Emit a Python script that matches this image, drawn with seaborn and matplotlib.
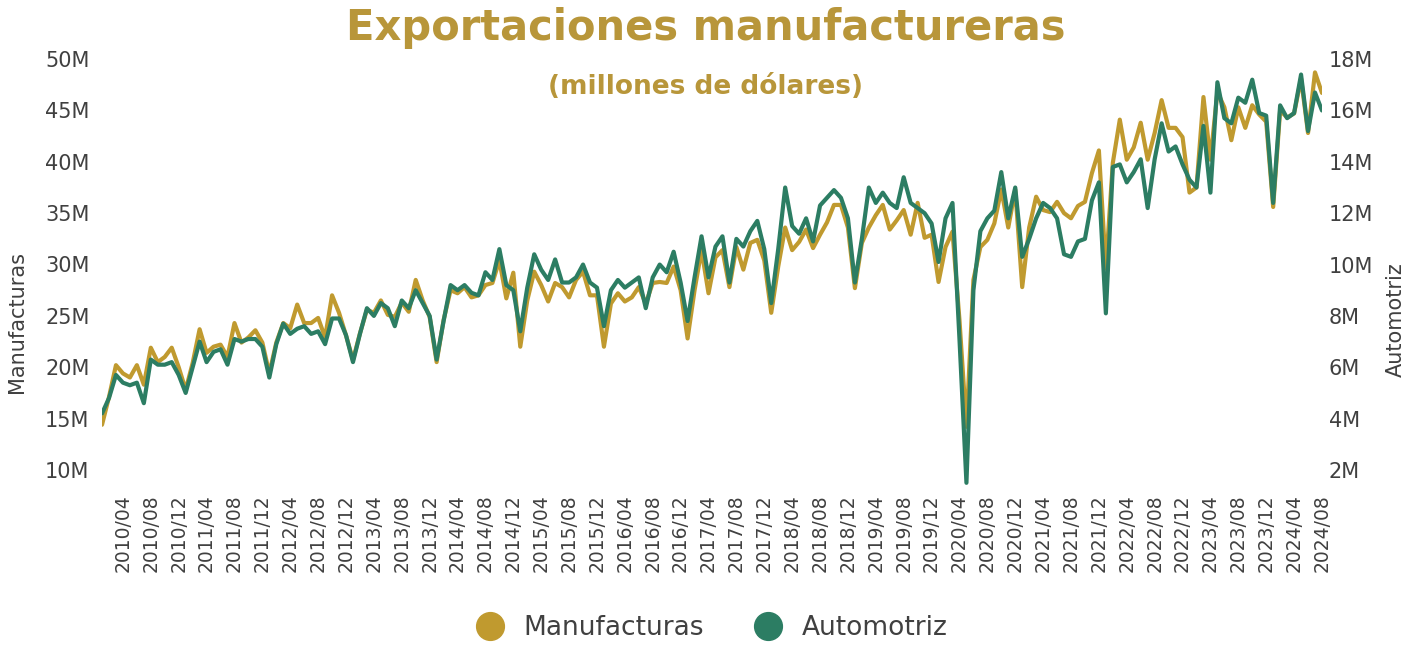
import matplotlib.pyplot as plt
from matplotlib.lines import Line2D
import seaborn as sns
import pandas as pd

sns.set_style("white")
plt.rcParams['font.family'] = ['DejaVu Sans']

# DATA HERE (monthly, 2010/01 - 2024/08)
months = pd.date_range("2010-01-01", periods=176, freq="MS").strftime("%Y/%m").tolist()

manufacturas = [
    14.4, 17.1, 20.2, 19.4, 19.0, 20.2, 18.3, 21.9, 20.5, 21.0, 21.9, 20.0,
    17.8, 20.4, 23.7, 21.4, 22.0, 22.2, 21.0, 24.3, 22.4, 22.9, 23.6, 22.4,
    19.4, 22.4, 24.3, 23.8, 26.1, 24.3, 24.3, 24.8, 22.9, 27.0, 25.3, 23.1,
    20.7, 23.3, 25.6, 25.3, 26.5, 25.1, 24.9, 26.3, 25.4, 28.5, 26.5, 24.9,
    20.5, 24.6, 27.5, 27.2, 27.8, 26.8, 27.0, 28.0, 28.2, 30.4, 26.7, 29.2,
    22.0, 26.5, 29.3, 28.0, 26.4, 28.2, 27.8, 26.8, 28.5, 29.3, 27.0, 27.0,
    22.0, 26.2, 27.2, 26.4, 26.8, 27.8, 26.2, 28.2, 28.3, 28.2, 29.8, 27.5,
    22.8, 27.5, 31.4, 27.2, 30.7, 31.4, 27.8, 31.7, 29.5, 32.1, 32.4, 30.4,
    25.3, 29.8, 33.6, 31.4, 32.2, 33.4, 31.6, 32.9, 34.1, 35.8, 35.8, 33.6,
    27.7, 32.1, 33.6, 34.8, 35.8, 33.4, 34.3, 35.3, 32.9, 36.0, 32.6, 32.9,
    28.3, 31.7, 33.2, 24.6, 14.2, 28.5, 31.7, 32.4, 34.0, 37.3, 33.6, 37.3,
    27.8, 33.6, 36.6, 35.3, 35.1, 36.1, 35.0, 34.5, 35.7, 36.1, 38.9, 41.1,
    29.6, 39.9, 44.1, 40.2, 41.4, 43.8, 40.2, 42.8, 46.0, 43.3, 43.3, 42.4,
    37.0, 37.5, 46.3, 40.2, 46.8, 45.3, 42.1, 45.3, 43.3, 45.5, 44.6, 43.9,
    35.6, 45.0, 44.3, 44.7, 48.1, 42.8, 48.7, 46.7,
]

automotriz = [
    4.2, 4.8, 5.7, 5.4, 5.3, 5.4, 4.6, 6.3, 6.1, 6.1, 6.2, 5.7,
    5.0, 6.0, 7.0, 6.2, 6.6, 6.7, 6.1, 7.1, 7.0, 7.1, 7.1, 6.8,
    5.6, 6.9, 7.7, 7.3, 7.5, 7.6, 7.3, 7.4, 6.9, 7.9, 7.9, 7.25,
    6.2, 7.3, 8.3, 8.0, 8.5, 8.3, 7.6, 8.6, 8.3, 9.0, 8.5, 8.0,
    6.3, 7.8, 9.2, 9.0, 9.2, 8.9, 8.8, 9.7, 9.4, 10.6, 9.2, 9.0,
    7.4, 9.1, 10.4, 9.8, 9.4, 10.2, 9.3, 9.3, 9.5, 10.0, 9.3, 9.1,
    7.6, 9.0, 9.4, 9.1, 9.3, 9.5, 8.3, 9.5, 10.0, 9.7, 10.5, 9.3,
    7.8, 9.5, 11.1, 9.5, 10.7, 11.1, 9.3, 11.0, 10.7, 11.3, 11.7, 10.6,
    8.5, 10.6, 13.0, 11.5, 11.2, 11.8, 10.9, 12.3, 12.6, 12.9, 12.6, 11.8,
    9.3, 11.0, 13.0, 12.4, 12.8, 12.4, 12.2, 13.4, 12.4, 12.2, 12.0, 11.6,
    10.1, 11.8, 12.4, 7.1, 1.5, 9.0, 11.3, 11.8, 12.1, 13.6, 11.8, 13.0,
    10.3, 11.0, 11.8, 12.4, 12.2, 11.8, 10.4, 10.3, 10.9, 11.0, 12.5, 13.2,
    8.1, 13.8, 13.9, 13.2, 13.6, 14.1, 12.2, 14.1, 15.5, 14.4, 14.6, 13.9,
    13.3, 13.0, 15.4, 12.8, 17.1, 15.7, 15.5, 16.5, 16.3, 17.2, 15.9, 15.8,
    12.4, 16.2, 15.7, 15.9, 17.4, 15.2, 16.7, 16.0,
]

left_ticks = [10, 15, 20, 25, 30, 35, 40, 45, 50]
right_ticks = [2, 4, 6, 8, 10, 12, 14, 16, 18]

gold = '#C09A2F'
green = '#2C7D63'
title_gold = '#B8963A'
text_gray = '#404040'

df = pd.DataFrame({'mes': range(len(months)),
                   'Manufacturas': manufacturas,
                   'Automotriz': automotriz})

fig = plt.figure(figsize=(14.11, 6.45), dpi=100)
ax = fig.add_axes([0.0723, 0.2403, 0.8646, 0.6744])
ax2 = ax.twinx()

# gold on the left axis, green on the twin axis (drawn on top)
sns.lineplot(data=df, x='mes', y='Manufacturas', ax=ax, color=gold, linewidth=3)
sns.lineplot(data=df, x='mes', y='Automotriz', ax=ax2, color=green, linewidth=3)

ax.set_xlim(0, len(months) - 1)
ax.set_ylim(8.05, 50.39)
ax2.set_ylim(1.22, 18.16)

ax.set_yticks(left_ticks)
ax.set_yticklabels([f'{v}M' for v in left_ticks])
ax2.set_yticks(right_ticks)
ax2.set_yticklabels([f'{v}M' for v in right_ticks])

tick_pos = list(range(3, len(months), 4))
ax.set_xticks(tick_pos)
ax.set_xticklabels([months[i] for i in tick_pos], rotation=90)

ax.tick_params(axis='y', labelsize=15, colors=text_gray, length=0, pad=9)
ax2.tick_params(axis='y', labelsize=15, colors=text_gray, length=0, pad=5)
ax.tick_params(axis='x', labelsize=13.5, colors=text_gray, length=0, pad=3)

for a in (ax, ax2):
    for s in a.spines.values():
        s.set_visible(False)
    a.grid(False)

ax.set_xlabel('')
ax.set_ylabel('Manufacturas', fontsize=15, color=text_gray)
ax.yaxis.set_label_coords(-0.0615, 0.386)
ax2.set_ylabel('Automotriz', fontsize=15, color=text_gray)
ax2.yaxis.set_label_coords(1.052, 0.391)

fig.text(0.5, 1 - 28 / 645, 'Exportaciones manufactureras', ha='center', va='center',
         fontsize=30, fontweight='bold', color=title_gold)
fig.text(0.5, 1 - 87 / 645, '(millones de dólares)', ha='center', va='center',
         fontsize=19, fontweight='bold', color=title_gold)

handles = [Line2D([], [], marker='o', linestyle='', markersize=20, color=gold),
           Line2D([], [], marker='o', linestyle='', markersize=20, color=green)]
fig.legend(handles, ['Manufacturas', 'Automotriz'], loc='center',
           bbox_to_anchor=(0.5, 1 - 628 / 645), ncol=2, frameon=False,
           fontsize=19, handletextpad=0.3, columnspacing=1.4, labelcolor=text_gray)

fig.savefig('out.png', dpi=100)
